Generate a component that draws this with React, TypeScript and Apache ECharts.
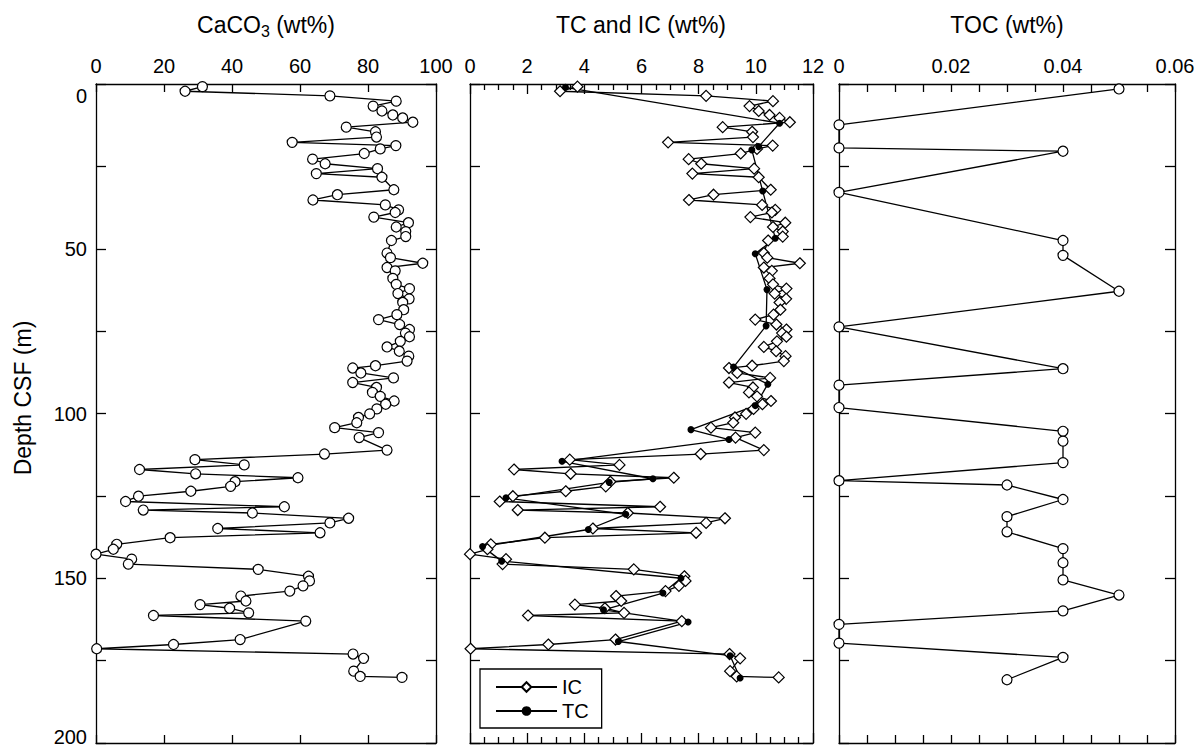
import React, { useEffect, useRef } from "react";
import * as echarts from "echarts";

// Depths (m CSF) shared by CaCO3 and IC samples
const depthCarb = [
  0.8, 2.2, 3.6, 5.2, 6.7, 8.2, 9.4, 10.3, 11.6, 13.1, 14.5, 16.1, 17.7, 18.7, 19.7, 21.1, 22.8, 24.2, 25.7, 27.2,
  28.3, 32.1, 33.6, 35.2, 36.7, 38.2, 39.0, 40.4, 42.1, 43.4, 44.8, 46.3, 47.5, 51.3, 52.7, 54.4, 55.7, 56.7, 59.0, 60.8,
  62.1, 63.6, 65.2, 66.3, 68.5, 70.0, 71.5, 73.0, 74.5, 75.6, 76.7, 78.1, 79.8, 81.1, 82.6, 84.1, 85.5, 86.2, 87.7, 89.2,
  90.6, 92.1, 93.6, 94.8, 96.2, 97.2, 98.6, 100.1, 101.2, 102.8, 104.3, 105.8, 107.3, 111.1, 112.3, 114.0, 115.6, 117.0, 118.3, 119.5,
  120.7, 122.1, 123.6, 125.1, 126.7, 128.3, 129.3, 130.2, 131.8, 133.2, 134.9, 136.2, 137.7, 139.7, 141.2, 142.7, 144.2, 145.7, 147.3, 149.4,
  150.8, 152.3, 153.9, 155.4, 156.9, 158.0, 159.1, 160.5, 161.3, 163.0, 168.6, 170.1, 171.4, 173.0, 174.3, 178.2, 179.8, 180.1,
];

const caco3 = [
  31.3, 26.2, 68.8, 88.3, 81.5, 84.1, 87.3, 90.2, 93.2, 73.6, 82.2, 82.5, 57.7, 88.2, 83.6, 78.9, 63.7, 67.4, 82.8, 64.8,
  84.1, 87.6, 71.0, 63.8, 85.1, 89.0, 88.0, 81.7, 91.9, 88.3, 91.1, 91.1, 86.9, 85.6, 86.6, 96.1, 85.6, 88.0, 87.3, 88.3,
  92.2, 88.8, 92.1, 90.2, 90.5, 88.5, 83.1, 89.3, 92.2, 91.0, 92.2, 89.5, 85.6, 89.2, 92.0, 91.5, 82.2, 75.5, 77.9, 87.5,
  75.5, 82.5, 81.3, 83.6, 87.7, 85.2, 82.6, 80.5, 77.2, 76.7, 70.2, 83.1, 77.4, 85.6, 67.2, 29.1, 43.6, 12.8, 29.3, 59.4,
  40.9, 39.6, 27.9, 12.5, 8.7, 55.4, 13.9, 46.0, 74.3, 68.8, 35.8, 65.9, 21.8, 6.1, 5.1, 0.0, 10.5, 9.5, 47.7, 62.5,
  62.8, 60.9, 57.0, 42.6, 44.1, 30.6, 39.3, 44.9, 16.9, 61.7, 42.4, 22.8, 0.2, 75.6, 78.7, 75.8, 77.7, 90.0,
];

const ic = [
  3.76, 3.15, 8.26, 10.6, 9.78, 10.1, 10.48, 10.83, 11.19, 8.84, 9.87, 9.9, 6.93, 10.59, 10.04, 9.47, 7.65, 8.09, 9.94, 7.78,
  10.1, 10.52, 8.52, 7.66, 10.22, 10.68, 10.56, 9.81, 11.03, 10.6, 10.94, 10.94, 10.43, 10.28, 10.4, 11.54, 10.28, 10.56, 10.48, 10.6,
  11.07, 10.66, 11.06, 10.83, 10.86, 10.62, 9.98, 10.72, 11.07, 10.92, 11.07, 10.74, 10.28, 10.71, 11.04, 10.98, 9.87, 9.06, 9.35, 10.5,
  9.06, 9.9, 9.76, 10.04, 10.53, 10.23, 9.92, 9.66, 9.27, 9.21, 8.43, 9.98, 9.29, 10.28, 8.07, 3.49, 5.23, 1.54, 3.52, 7.13,
  4.91, 4.75, 3.35, 1.5, 1.04, 6.65, 1.67, 5.52, 8.92, 8.26, 4.3, 7.91, 2.62, 0.73, 0.61, 0.0, 1.26, 1.14, 5.73, 7.5,
  7.54, 7.31, 6.84, 5.11, 5.29, 3.67, 4.72, 5.39, 2.03, 7.41, 5.09, 2.74, 0.02, 9.08, 9.45, 9.1, 9.33, 10.8,
];

const depthTC = [
  1.0, 11.9, 19.0, 20.0, 32.5, 46.8, 51.5, 62.4, 73.4, 85.9, 91.1, 97.6, 104.9, 107.9, 114.5, 119.8, 120.9, 125.6, 130.6, 135.2,
  140.4, 144.8, 150.0, 154.5, 159.6, 163.3, 169.2, 173.5, 180.3,
];
const tc = [
  3.34, 10.83, 10.1, 9.86, 10.24, 10.68, 9.98, 10.39, 10.36, 9.22, 10.42, 9.98, 7.73, 9.06, 3.22, 6.4, 4.87, 1.26, 5.45, 4.14,
  0.44, 1.11, 7.38, 6.75, 4.67, 7.63, 5.19, 9.1, 9.45,
];

const depthTOC = [
  1.5, 12.4, 19.4, 20.4, 32.9, 47.5, 52.0, 62.9, 73.7, 86.4, 91.4, 98.2, 105.4, 108.4, 114.9, 120.4, 121.7, 126.1, 131.3, 135.9,
  141.0, 145.3, 150.5, 155.1, 159.9, 164.0, 169.7, 174.0, 180.8,
];
const toc = [
  0.05, 0, 0, 0.04, 0, 0.04, 0.04, 0.05, 0, 0.04, 0, 0, 0.04, 0.04, 0.04, 0, 0.03, 0.04, 0.03, 0.03,
  0.04, 0.04, 0.04, 0.05, 0.04, 0, 0, 0.04, 0.03,
];

const panelTitles = ["{a|CaCO}{b|3}{a| (wt%)}", "TC and IC (wt%)", "TOC (wt%)"];
const depthName = "Depth CSF (m)";

const FONT = "'Liberation Sans', Arial, Helvetica, sans-serif";
const BLACK = "#000";

const pairs = (xs: number[], ys: number[]) => xs.map((x, i) => [x, ys[i]]);

export default function App() {
  const ref = useRef<HTMLDivElement>(null);

  useEffect(() => {
    const chart = echarts.init(ref.current!, null, { renderer: "svg" });
    const lineStyle = { color: BLACK, width: 1.3 };
    const grids = [
      { left: 96, top: 84, width: 340, height: 659 },
      { left: 470, top: 84, width: 343, height: 659 },
      { left: 839, top: 84, width: 336, height: 659 },
    ];

    const xAxes = (
      gridIndex: number,
      max: number,
      interval: number,
      minorSplit: number,
      tickLen: number,
      minorLen: number,
      formatter?: (v: number) => string
    ) => {
      const common: any = {
        type: "value",
        gridIndex,
        min: 0,
        max,
        interval,
        splitLine: { show: false },
        minorSplitLine: { show: false },
        axisLine: { show: true, onZero: false, lineStyle },
        axisTick: { show: true, inside: true, length: tickLen, lineStyle },
        minorTick: { show: minorSplit > 0, splitNumber: minorSplit || 5, length: minorLen, lineStyle },
      };
      return [
        {
          ...common,
          position: "top",
          axisLabel: { show: true, color: BLACK, fontSize: 20, fontFamily: FONT, margin: 8, formatter },
        },
        { ...common, position: "bottom", axisLabel: { show: false } },
      ];
    };

    const yAxes = (gridIndex: number, labels: boolean) => {
      const common: any = {
        type: "value",
        gridIndex,
        min: 0,
        max: 200,
        interval: 50,
        inverse: true,
        splitLine: { show: false },
        minorSplitLine: { show: false },
        axisLine: { show: true, onZero: false, lineStyle },
        axisTick: { show: true, inside: true, length: 10, lineStyle },
        minorTick: { show: true, splitNumber: 2, length: 10, lineStyle },
      };
      return [
        {
          ...common,
          position: "left",
          axisLabel: {
            show: labels,
            color: BLACK,
            fontSize: 20,
            fontFamily: FONT,
            margin: 9,
            formatter: (v: number) => (v === 0 ? "{z|0}" : v === 200 ? "{w|200}" : String(v)),
            rich: {
              z: { fontSize: 20, fontFamily: FONT, color: BLACK, padding: [23, 0, 0, 0] },
              w: { fontSize: 20, fontFamily: FONT, color: BLACK, padding: [0, 0, 13, 0] },
            },
          },
        },
        { ...common, position: "right", axisLabel: { show: false } },
      ];
    };

    const openMarker = { color: "#fff", borderColor: BLACK, borderWidth: 1.2 };
    const baseSeries = { type: "line", clip: false, silent: true, emphasis: { disabled: true }, lineStyle };

    const titleText = (x: number, text: string) => ({
      type: "text",
      x,
      y: 25,
      style: {
        text,
        fontSize: 23,
        fontFamily: FONT,
        fill: BLACK,
        align: "center",
        verticalAlign: "middle",
        textAlign: "center",
        textVerticalAlign: "middle",
      },
    });

    const option: any = {
      animation: false,
      backgroundColor: "#fff",
      textStyle: { fontFamily: FONT },
      grid: grids.map((g) => ({ ...g, show: false })),
      xAxis: [
        ...xAxes(0, 100, 20, 0, 8, 0),
        ...xAxes(1, 12, 2, 4, 10, 6),
        ...xAxes(2, 0.06, 0.02, 4, 8, 8, (v: number) => (v === 0 ? "0" : v.toFixed(2))),
      ],
      yAxis: [...yAxes(0, true), ...yAxes(1, false), ...yAxes(2, false)],
      legend: {
        data: ["IC", "TC"],
        orient: "vertical",
        left: 480,
        top: 669,
        selectedMode: false,
        borderColor: BLACK,
        borderWidth: 1.3,
        borderRadius: 0,
        padding: [8, 13, 7, 15],
        itemWidth: 61,
        itemHeight: 12,
        itemGap: 4,
        textStyle: { fontSize: 20, fontFamily: FONT, color: BLACK },
      },
      graphic: [
        {
          type: "text",
          x: 266,
          y: 25,
          style: {
            text: panelTitles[0],
            align: "center",
            verticalAlign: "middle",
            textAlign: "center",
            textVerticalAlign: "middle",
            fill: BLACK,
            rich: {
              a: { fontSize: 23, fontFamily: FONT, fill: BLACK, lineHeight: 28, verticalAlign: "middle" },
              b: { fontSize: 16, fontFamily: FONT, fill: BLACK, lineHeight: 28, verticalAlign: "bottom" },
            },
          },
        },
        titleText(641, panelTitles[1]),
        titleText(1007, panelTitles[2]),
        {
          type: "text",
          x: 23,
          y: 398,
          rotation: Math.PI / 2,
          style: {
            text: depthName,
            fontSize: 23,
            fontFamily: FONT,
            fill: BLACK,
            align: "center",
            verticalAlign: "middle",
            textAlign: "center",
            textVerticalAlign: "middle",
          },
        },
      ],
      series: [
        {
          ...baseSeries,
          name: "CaCO3",
          xAxisIndex: 0,
          yAxisIndex: 0,
          symbol: "circle",
          symbolSize: 10,
          itemStyle: openMarker,
          data: pairs(caco3, depthCarb),
        },
        {
          ...baseSeries,
          name: "IC",
          xAxisIndex: 2,
          yAxisIndex: 2,
          symbol: "diamond",
          symbolSize: 11,
          itemStyle: openMarker,
          data: pairs(ic, depthCarb),
        },
        {
          ...baseSeries,
          name: "TC",
          xAxisIndex: 2,
          yAxisIndex: 2,
          symbol: "circle",
          symbolSize: 7,
          itemStyle: { color: BLACK, borderColor: BLACK, borderWidth: 0 },
          data: pairs(tc, depthTC),
        },
        {
          ...baseSeries,
          name: "TOC",
          xAxisIndex: 4,
          yAxisIndex: 4,
          symbol: "circle",
          symbolSize: 10,
          itemStyle: openMarker,
          data: pairs(toc, depthTOC),
        },
      ],
    };

    chart.setOption(option);
    return () => chart.dispose();
  }, []);

  return (
    <div
      ref={ref}
      style={{ position: "fixed", left: 0, top: 0, width: 1199, height: 748, background: "#fff" }}
    />
  );
}
